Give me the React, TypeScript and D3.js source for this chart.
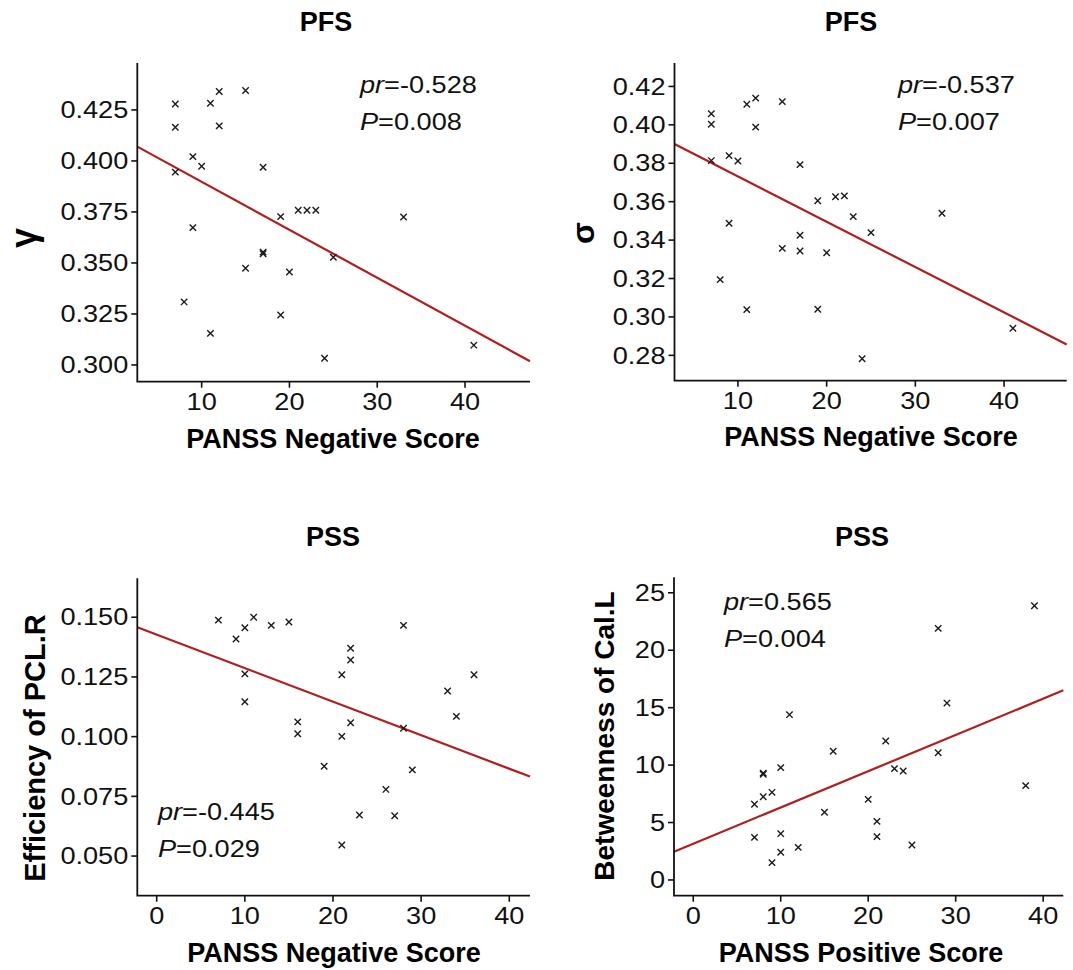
import { useEffect, useRef } from "react";
import * as d3 from "d3";

// PFS: gamma vs PANSS negative
const gammaX = [7, 7, 7, 11, 12, 12, 15, 9, 10, 17, 19, 21, 22, 23, 33, 9, 17, 17, 25, 15, 20, 8, 19, 11, 24, 41];
const gammaY = [0.4279, 0.4165, 0.3945, 0.4283, 0.434, 0.4172, 0.4345, 0.4021, 0.3974, 0.3969, 0.3727, 0.3758, 0.3758, 0.3758, 0.3725, 0.3673, 0.3553, 0.3545, 0.3528, 0.3474, 0.3456, 0.3309, 0.3245, 0.3155, 0.3033, 0.3097];

// PFS: sigma vs PANSS negative
const sigmaX = [7, 7, 7, 11, 12, 12, 15, 9, 10, 17, 19, 21, 22, 23, 33, 9, 17, 25, 15, 17, 20, 8, 11, 19, 24, 41];
const sigmaY = [0.4058, 0.4003, 0.3814, 0.4107, 0.4139, 0.3988, 0.4121, 0.384, 0.3812, 0.3793, 0.3605, 0.3626, 0.363, 0.3522, 0.354, 0.3488, 0.3425, 0.3439, 0.3357, 0.3343, 0.3334, 0.3194, 0.3038, 0.304, 0.2782, 0.2941];

// PSS: efficiency of PCL.R vs PANSS negative
const effX = [7, 9, 10, 11, 13, 15, 10, 10, 16, 16, 19, 21, 21, 21, 22, 22, 22, 23, 26, 27, 28, 28, 29, 33, 34, 36];
const effY = [0.1488, 0.1409, 0.1456, 0.15, 0.1466, 0.148, 0.1263, 0.1146, 0.1062, 0.1012, 0.0876, 0.1259, 0.1001, 0.0546, 0.137, 0.1321, 0.1058, 0.0672, 0.0779, 0.0669, 0.1466, 0.1035, 0.0861, 0.1191, 0.1085, 0.1259];

// PSS: betweenness of Cal.L vs PANSS positive
const btwX = [7, 7, 8, 8, 8, 9, 9, 10, 10, 10, 11, 12, 15, 16, 20, 21, 21, 22, 23, 24, 25, 28, 28, 29, 38, 39];
const btwY = [6.59, 3.71, 9.2, 9.3, 7.25, 7.63, 1.51, 9.78, 4.03, 2.41, 14.39, 2.84, 5.89, 11.2, 7.02, 5.1, 3.77, 12.1, 9.69, 9.49, 3.05, 21.9, 11.08, 15.4, 8.21, 23.87];

// fitted lines (intercept, slope)
const fitIntercept = [0.4133, 0.3968, 0.1427, 3.155];
const fitSlope = [-0.002352, -0.002362, -0.001403, 0.3157];

const titles = ["PFS", "PFS", "PSS", "PSS"];
const xLabels = ["PANSS Negative Score", "PANSS Negative Score", "PANSS Negative Score", "PANSS Positive Score"];
const yLabels = ["γ", "σ", "Efficiency of PCL.R", "Betweenness of Cal.L"];
const prValues = ["-0.528", "-0.537", "-0.445", "0.565"];
const pValues = ["0.008", "0.007", "0.029", "0.004"];

const xTicksTop = [10, 20, 30, 40];
const xTicksBottom = [0, 10, 20, 30, 40];
const gammaTicks = [0.3, 0.325, 0.35, 0.375, 0.4, 0.425];
const sigmaTicks = [0.28, 0.3, 0.32, 0.34, 0.36, 0.38, 0.4, 0.42];
const effTicks = [0.05, 0.075, 0.1, 0.125, 0.15];
const btwTicks = [0, 5, 10, 15, 20, 25];

const FONT = "'Liberation Sans', Arial, Helvetica, sans-serif";
const SX = 1.18; // regular text in the figure is a bit wide
const RED = "#b01e1e";

const PANELS = [
  {
    xs: gammaX, ys: gammaY, xTicks: xTicksTop, yTicks: gammaTicks, yFmt: ".3f",
    box: [137.3, 63, 530, 381.7], xDom: [2.67, 47.4], yDom: [0.2918, 0.448],
    titleX: 326, titleY: 31, statX: 360, statY: 93, xlabX: 333, xlabY: 448,
    ylabX: 36, ylabY: 238, ylabSize: 36
  },
  {
    xs: sigmaX, ys: sigmaY, xTicks: xTicksTop, yTicks: sigmaTicks, yFmt: ".2f",
    box: [674.5, 63, 1066.7, 380.7], xDom: [2.85, 47.06], yDom: [0.2668, 0.4322],
    titleX: 851, titleY: 31, statX: 898, statY: 93, xlabX: 871, xlabY: 446,
    ylabX: 594, ylabY: 233, ylabSize: 32
  },
  {
    xs: effX, ys: effY, xTicks: xTicksBottom, yTicks: effTicks, yFmt: ".3f",
    box: [137.3, 578.3, 530, 895.7], xDom: [-2.2, 42.35], yDom: [0.0334, 0.1663],
    titleX: 333, titleY: 546, statX: 158, statY: 820, xlabX: 334, xlabY: 962,
    ylabX: 45, ylabY: 748, ylabSize: 29
  },
  {
    xs: btwX, ys: btwY, xTicks: xTicksBottom, yTicks: btwTicks, yFmt: "d",
    box: [674, 577.3, 1063.3, 895.7], xDom: [-2.2, 42.3], yDom: [-1.37, 26.35],
    titleX: 862, titleY: 546, statX: 724, statY: 610, xlabX: 861, xlabY: 962,
    ylabX: 614, ylabY: 736, ylabSize: 28
  }
];

export default function App() {
  const svgRef = useRef(null);

  useEffect(() => {
    const svg = d3.select(svgRef.current);
    svg.selectAll("*").remove();

    const wide = (g, str, x, y, anchor) =>
      g.append("text")
        .attr("transform", `translate(${x},${y}) scale(${SX},1)`)
        .attr("text-anchor", anchor)
        .attr("font-family", FONT)
        .attr("font-size", 23)
        .attr("fill", "#111")
        .text(str);

    PANELS.forEach((p, i) => {
      const [l, t, r, b] = p.box;
      const x = d3.scaleLinear().domain(p.xDom).range([l, r]);
      const y = d3.scaleLinear().domain(p.yDom).range([b, t]);
      const g = svg.append("g");

      // regression line
      const line = d3.line().x((d) => x(d[0])).y((d) => y(d[1]));
      g.append("path")
        .datum(p.xDom.map((v) => [v, fitIntercept[i] + fitSlope[i] * v]))
        .attr("fill", "none")
        .attr("stroke", RED)
        .attr("stroke-width", 2.2)
        .attr("d", line);

      // x markers
      const s = 3.2;
      g.append("g")
        .selectAll("path")
        .data(p.xs.map((v, k) => [v, p.ys[k]]))
        .enter()
        .append("path")
        .attr("d", (d) => {
          const cx = x(d[0]);
          const cy = y(d[1]);
          return `M${cx - s},${cy - s}L${cx + s},${cy + s}M${cx - s},${cy + s}L${cx + s},${cy - s}`;
        })
        .attr("stroke", "#1a1a1a")
        .attr("stroke-width", 1.4)
        .attr("fill", "none");

      // axes
      g.append("path")
        .attr("d", `M${l},${t}V${b}H${r}`)
        .attr("fill", "none")
        .attr("stroke", "#111")
        .attr("stroke-width", 1.8);

      const yf = d3.format(p.yFmt);
      p.yTicks.forEach((v) => {
        g.append("line")
          .attr("x1", l - 6).attr("x2", l)
          .attr("y1", y(v)).attr("y2", y(v))
          .attr("stroke", "#111").attr("stroke-width", 1.6);
        wide(g, yf(v), l - 9, y(v) + 8.2, "end");
      });
      p.xTicks.forEach((v) => {
        g.append("line")
          .attr("x1", x(v)).attr("x2", x(v))
          .attr("y1", b).attr("y2", b + 6)
          .attr("stroke", "#111").attr("stroke-width", 1.6);
        wide(g, String(v), x(v), b + 28.5, "middle");
      });

      // titles and labels
      g.append("text")
        .attr("x", p.titleX).attr("y", p.titleY)
        .attr("text-anchor", "middle")
        .attr("font-family", FONT).attr("font-weight", "bold").attr("font-size", 27)
        .text(titles[i]);
      g.append("text")
        .attr("x", p.xlabX).attr("y", p.xlabY)
        .attr("text-anchor", "middle")
        .attr("font-family", FONT).attr("font-weight", "bold").attr("font-size", 27)
        .text(xLabels[i]);
      g.append("text")
        .attr("transform", `translate(${p.ylabX},${p.ylabY}) rotate(-90)`)
        .attr("text-anchor", "middle")
        .attr("font-family", FONT).attr("font-weight", "bold").attr("font-size", p.ylabSize)
        .text(yLabels[i]);

      // stats
      const pr = wide(g, "", p.statX, p.statY, "start").text(null);
      pr.append("tspan").attr("font-style", "italic").text("pr");
      pr.append("tspan").text(`=${prValues[i]}`);
      const pv = wide(g, "", p.statX, p.statY + 36.7, "start").text(null);
      pv.append("tspan").attr("font-style", "italic").text("P");
      pv.append("tspan").text(`=${pValues[i]}`);
    });
  }, []);

  return (
    <svg
      ref={svgRef}
      width={1073}
      height={970}
      style={{ position: "absolute", left: 0, top: 0, background: "#fff" }}
    />
  );
}
